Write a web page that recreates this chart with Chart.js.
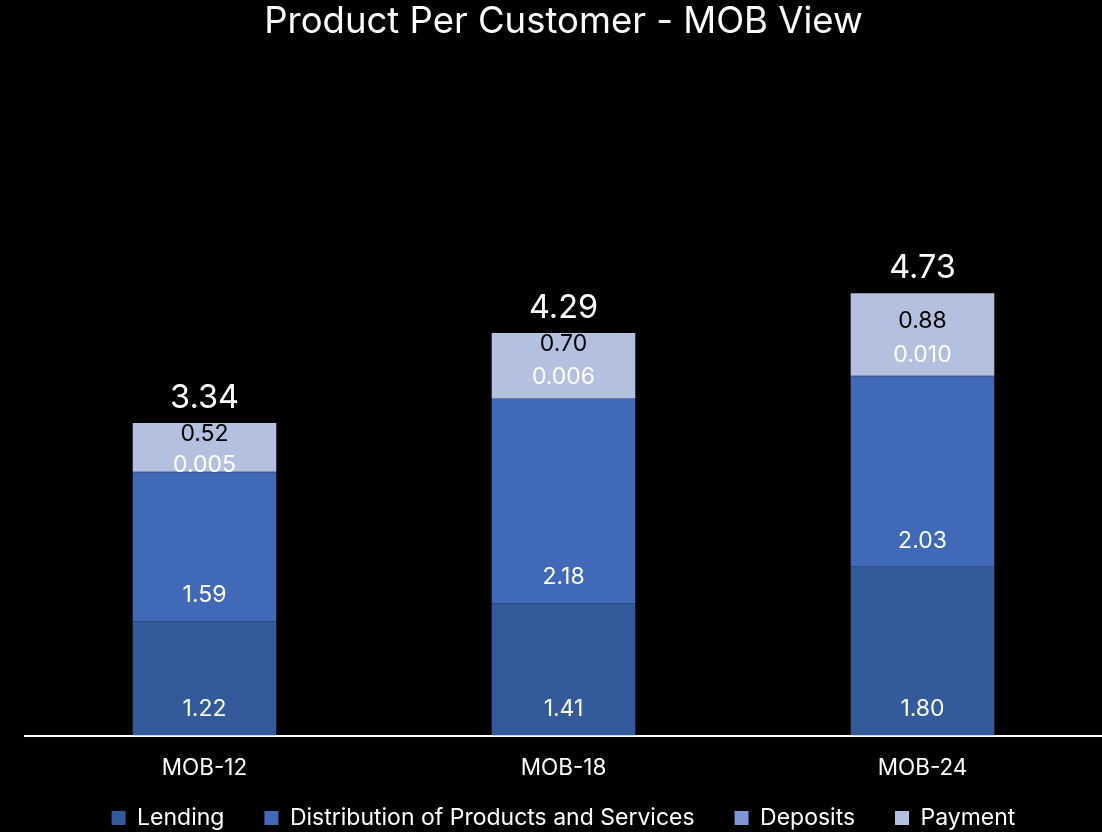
<!DOCTYPE html>
<html>
<head>
<meta charset="utf-8">
<script src="https://cdn.jsdelivr.net/npm/chart.js@4/dist/chart.umd.min.js"></script>
<style>
  html, body { margin: 0; padding: 0; background: #000; }
  #wrap { width: 1102px; height: 832px; }
</style>
</head>
<body>
<div id="wrap"><canvas id="chart" width="1102" height="832"></canvas></div>
<script>
// Data
const categories = ['MOB-12', 'MOB-18', 'MOB-24'];
const lending = [1.22, 1.41, 1.80];
const distribution = [1.59, 2.18, 2.03];
const deposits = [0.005, 0.006, 0.010];
const payment = [0.52, 0.70, 0.88];
const totals = [3.34, 4.29, 4.73];

const colors = {
    lending: '#335A9B',
    distribution: '#406AB8',
    deposits: '#7F96D6',
    payment: '#B4C0E0'
};

const FONT = 'Inter, Roboto, sans-serif';

// Draw the value labels in each segment and the total above each bar
const labelPlugin = {
    id: 'segLabels',
    afterDatasetsDraw(chart) {
        const ctx = chart.ctx;
        ctx.save();
        ctx.textAlign = 'center';
        ctx.textBaseline = 'middle';
        ctx.font = '23px ' + FONT;
        const payMeta = chart.getDatasetMeta(3);
        const payY = payMeta.data.map(bar => Math.max(bar.base - 55, bar.y + 11));
        chart.data.datasets.forEach((ds, i) => {
            const meta = chart.getDatasetMeta(i);
            meta.data.forEach((bar, j) => {
                let y;
                if (i === 3) {
                    y = payY[j];
                } else if (i === 2) {
                    // keep clear of the payment label above it
                    y = Math.max(bar.base - 22, payY[j] + 31);
                } else {
                    y = bar.base - 26;
                }
                ctx.fillStyle = ds.labelColor;
                ctx.fillText(ds.labelFmt(ds.data[j]), bar.x, y);
            });
        });
        // totals
        ctx.font = '32.5px ' + FONT;
        ctx.fillStyle = '#ffffff';
        payMeta.data.forEach((bar, j) => {
            ctx.fillText(totals[j].toFixed(2), bar.x, bar.y - 25);
        });
        ctx.restore();
    }
};

new Chart(document.getElementById('chart').getContext('2d'), {
    type: 'bar',
    data: {
        labels: categories,
        datasets: [
            {
                label: 'Lending',
                data: lending,
                backgroundColor: colors.lending,
                labelColor: '#ffffff',
                labelFmt: v => v.toFixed(2)
            },
            {
                label: 'Distribution of Products and Services',
                data: distribution,
                backgroundColor: colors.distribution,
                labelColor: '#ffffff',
                labelFmt: v => v.toFixed(2)
            },
            {
                label: 'Deposits',
                data: deposits,
                backgroundColor: colors.deposits,
                labelColor: '#ffffff',
                labelFmt: v => v.toFixed(3)
            },
            {
                label: 'Payment',
                data: payment,
                backgroundColor: colors.payment,
                labelColor: '#000000',
                labelFmt: v => v.toFixed(2)
            }
        ]
    },
    options: {
        responsive: false,
        animation: false,
        barPercentage: 0.8,
        categoryPercentage: 0.5,
        layout: {
            padding: { left: 25, right: 0, top: 0, bottom: -7.5 }
        },
        plugins: {
            title: {
                display: true,
                text: 'Product Per Customer - MOB View',
                color: '#ffffff',
                font: { family: FONT, size: 36.5, weight: 'normal' },
                padding: { top: 0, bottom: 17 }
            },
            legend: {
                position: 'bottom',
                labels: {
                    color: '#ffffff',
                    font: { family: FONT, size: 23 },
                    boxWidth: 14,
                    boxHeight: 14,
                    padding: 27,
                    generateLabels(chart) {
                        const items = Chart.defaults.plugins.legend.labels.generateLabels(chart);
                        // a bit more room between the entries
                        items.forEach((it, i) => {
                            if (i < items.length - 1) it.text += '  ';
                        });
                        return items;
                    }
                }
            },
            tooltip: { enabled: false }
        },
        scales: {
            x: {
                stacked: true,
                grid: { display: false, drawTicks: false },
                border: { display: true, color: '#ffffff', width: 2 },
                ticks: {
                    color: '#ffffff',
                    font: { family: FONT, size: 22.5 },
                    padding: 19
                },
                afterFit(scale) {
                    scale.height = 44;
                }
            },
            y: {
                stacked: true,
                display: false,
                min: 0,
                max: 7.2
            }
        }
    },
    plugins: [labelPlugin]
});
</script>
</body>
</html>
